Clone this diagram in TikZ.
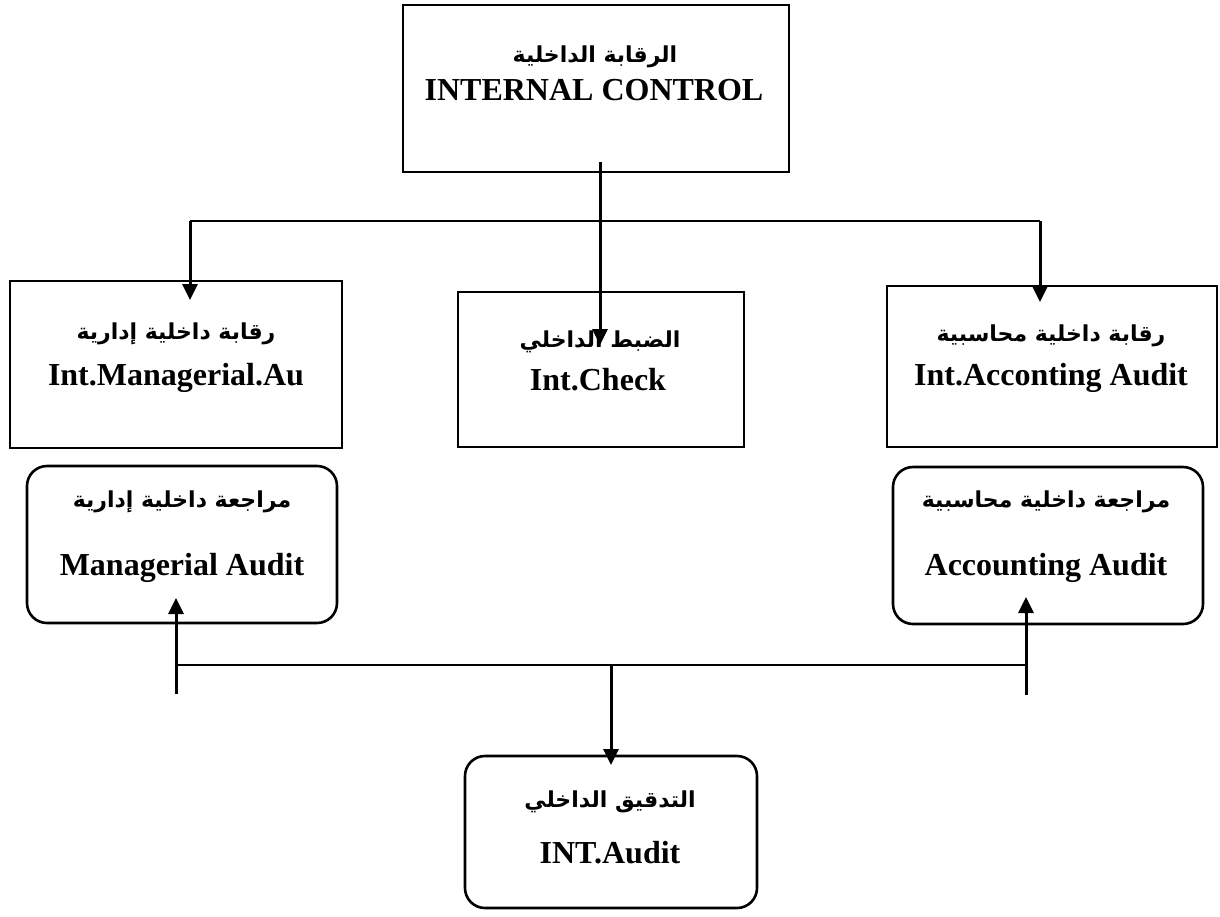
\documentclass[tikz,border=0pt]{standalone}
\usepackage{fontspec}
\setmainfont{Liberation Serif}
\newfontfamily\arabicfont[Script=Arabic]{DejaVu Sans}
\TeXXeTstate=1
\usetikzlibrary{arrows.meta}
\begin{document}
\begin{tikzpicture}[x=1pt,y=-1pt,
  sqbox/.style={draw,line width=2.6pt,inner sep=0pt},
  rdbox/.style={draw,line width=2.6pt,inner sep=0pt,rounded corners=20pt},
  en/.style={font=\fontsize{32}{37}\selectfont\bfseries,anchor=base,inner sep=0pt},
  ar/.style={font=\arabicfont\fontsize{22}{27}\selectfont\bfseries,anchor=center,inner sep=0pt},
  vl/.style={line width=3pt},
  hl/.style={line width=1.5pt},
  arr/.style={-{Triangle[length=16pt,width=15pt]}}]
\useasboundingbox (0,0) rectangle (1220,916);
% boxes
\node[sqbox,minimum width=386pt,minimum height=167pt] (top) at (596,88.5) {};
\node[sqbox,minimum width=332pt,minimum height=167pt] (lbox) at (176,364.5) {};
\node[sqbox,minimum width=286pt,minimum height=155pt] (mbox) at (601,369.5) {};
\node[sqbox,minimum width=330pt,minimum height=161pt] (rbox) at (1052,366.5) {};
\node[rdbox,minimum width=310pt,minimum height=157pt] (lrnd) at (182,544.5) {};
\node[rdbox,minimum width=310pt,minimum height=157pt] (rrnd) at (1048,545.5) {};
\node[rdbox,minimum width=292pt,minimum height=152pt] (brnd) at (611,832) {};
% texts
\node[ar] (topar) at (595,57) {\beginR الرقابة الداخلية\endR};
\node[en] (topen) at (594,100) {INTERNAL CONTROL};
\node[ar] (lar) at (176,334) {\beginR رقابة داخلية إدارية\endR};
\node[en] (len) at (176,385) {Int.Managerial.Au};
\node[ar] (mar) at (600,342) {\beginR الضبط الداخلي\endR};
\node[en] (men) at (598,390) {Int.Check};
\node[ar] (rar) at (1051,336) {\beginR رقابة داخلية محاسبية\endR};
\node[en] (ren) at (1051,385) {Int.Acconting Audit};
\node[ar] (lrar) at (182,502) {\beginR مراجعة داخلية إدارية\endR};
\node[en] (lren) at (182,575) {Managerial Audit};
\node[ar] (rrar) at (1046,502) {\beginR مراجعة داخلية محاسبية\endR};
\node[en] (rren) at (1046,575) {Accounting Audit};
\node[ar] (bar) at (610,802) {\beginR التدقيق الداخلي\endR};
\node[en] (ben) at (610,863) {INT.Audit};
% connector points
\coordinate (tstart) at (600,162);
\coordinate (mtip) at (600,345);
\coordinate (jl) at (190,221);
\coordinate (jr) at (1040,221);
\coordinate (ltip) at (190,300);
\coordinate (rtip) at (1040,302);
\coordinate (bl) at (176,665);
\coordinate (br) at (1026,665);
\coordinate (blow) at (176,694);
\coordinate (brlow) at (1026,695);
\coordinate (lrtip) at (176,598);
\coordinate (rrtip) at (1026,597);
\coordinate (bm) at (611,665);
\coordinate (btip) at (611,765);
% connectors
\draw[vl,arr] (tstart) -- (mtip);
\draw[hl] (jl) -- (jr);
\draw[vl,arr] (jl) -- (ltip);
\draw[vl,arr] (jr) -- (rtip);
\draw[hl] (bl) -- (br);
\draw[vl,arr] (blow) -- (lrtip);
\draw[vl,arr] (brlow) -- (rrtip);
\draw[vl,arr] (bm) -- (btip);
\end{tikzpicture}
\end{document}
